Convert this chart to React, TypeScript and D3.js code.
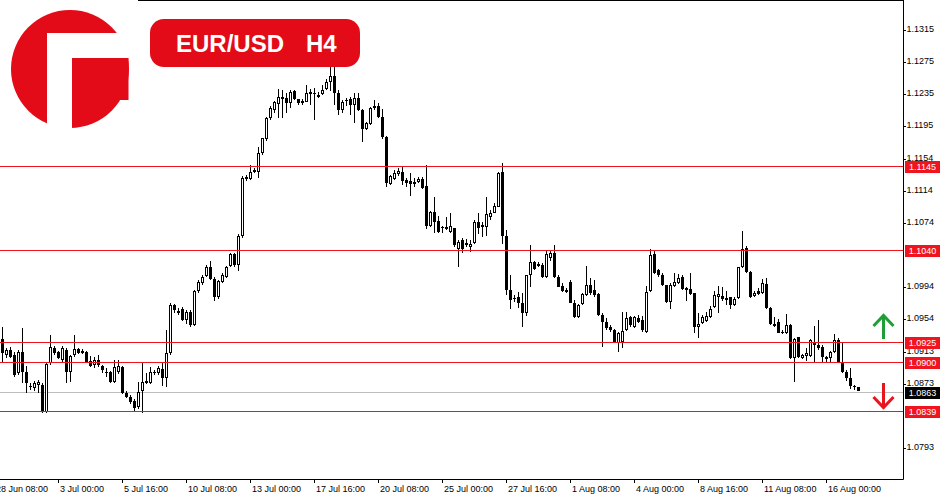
import React from "react";
import * as d3 from "d3";

const FONT = "'Liberation Sans', Arial, sans-serif";

// bar index of the first candle (bar 0 = 28 Jun 08:00, H4 bars)
const firstBar = 2;

const opens = [
  1.09288,1.09088,1.09150,1.09088,1.08863,1.09125,1.08875,1.08700,1.08675,1.08713,
  1.08713,1.08375,1.08988,1.09175,1.09125,1.09025,1.09150,1.08875,1.09088,1.09163,
  1.09113,1.09125,1.09013,1.08963,1.09025,1.08950,1.08875,1.08875,1.08750,1.08875,
  1.08938,1.08613,1.08563,1.08513,1.08438,1.08638,1.08763,1.08738,1.08875,1.08863,
  1.08913,1.08800,1.09113,1.09713,1.09613,1.09663,1.09525,1.09625,1.09463,1.09888,
  1.09988,1.10075,1.10188,1.10038,1.09813,1.10000,1.10063,1.10200,1.10350,1.10213,
  1.10575,1.11313,1.11288,1.11400,1.11375,1.11613,1.11788,1.12050,1.12150,1.12225,
  1.12313,1.12300,1.12238,1.12388,1.12288,1.12263,1.12250,1.12375,1.12350,1.12313,
  1.12350,1.12413,1.12500,1.12575,1.12363,1.12150,1.12275,1.12288,1.12213,1.12300,
  1.12150,1.11913,1.11975,1.12175,1.12200,1.12063,1.11813,1.11225,1.11288,1.11350,
  1.11375,1.11275,1.11263,1.11225,1.11250,1.11288,1.11200,1.10700,1.10875,1.10763,
  1.10688,1.10688,1.10625,1.10675,1.10413,1.10525,1.10488,1.10438,1.10488,1.10750,
  1.10713,1.10688,1.10813,1.10863,1.10938,1.11375,1.10575,1.09900,1.09788,1.09813,
  1.09738,1.09613,1.10088,1.10250,1.10225,1.10213,1.10063,1.10300,1.10363,1.10063,
  1.09950,1.09900,1.10000,1.09738,1.09563,1.09725,1.09838,1.09963,1.09900,1.09850,
  1.09588,1.09500,1.09438,1.09400,1.09238,1.09250,1.09400,1.09563,1.09438,1.09550,
  1.09525,1.09375,1.09888,1.10350,1.10150,1.10088,1.09963,1.09750,1.09950,1.09988,
  1.10063,1.09925,1.09913,1.09863,1.09438,1.09488,1.09513,1.09563,1.09688,1.09813,
  1.09825,1.09800,1.09813,1.09713,1.09800,1.10188,1.10425,1.10125,1.09825,1.09888,
  1.09863,1.09975,1.09675,1.09475,1.09500,1.09375,1.09363,1.09463,1.09050,1.09313,
  1.09050,1.09075,1.09075,1.09250,1.09213,1.09188,1.09063,1.09050,1.09125,1.09275,
  1.09000,1.08875,1.08800,1.08700,1.08688,
];

const highs = [
  1.09438,1.09175,1.09188,1.09125,1.09150,1.09425,1.08950,1.08738,1.08763,1.08775,
  1.08738,1.08988,1.09338,1.09200,1.09138,1.09200,1.09175,1.09088,1.09338,1.09175,
  1.09163,1.09138,1.09075,1.09063,1.09088,1.08963,1.08925,1.08888,1.09025,1.09025,
  1.08950,1.08638,1.08588,1.08538,1.08750,1.09000,1.08863,1.08938,1.08900,1.08950,
  1.09000,1.09400,1.09738,1.09725,1.09675,1.09688,1.09650,1.09650,1.09900,1.10025,
  1.10088,1.10213,1.10263,1.10063,1.10025,1.10113,1.10200,1.10363,1.10363,1.10600,
  1.11325,1.11338,1.11463,1.11425,1.11688,1.11800,1.12063,1.12200,1.12263,1.12413,
  1.12400,1.12363,1.12400,1.12400,1.12288,1.12288,1.12463,1.12413,1.12425,1.12375,
  1.12463,1.12538,1.12725,1.12750,1.12400,1.12275,1.12300,1.12313,1.12363,1.12363,
  1.12163,1.12000,1.12188,1.12275,1.12238,1.12163,1.11825,1.11338,1.11400,1.11425,
  1.11438,1.11300,1.11363,1.11300,1.11313,1.11313,1.11463,1.10888,1.11063,1.10825,
  1.10700,1.10813,1.10863,1.10675,1.10525,1.10550,1.10538,1.10525,1.10775,1.10863,
  1.10750,1.11063,1.10900,1.10988,1.11375,1.11488,1.10650,1.10088,1.09838,1.09875,
  1.09863,1.10088,1.10463,1.10263,1.10250,1.10238,1.10400,1.10388,1.10463,1.10088,
  1.09988,1.09925,1.10025,1.09775,1.09725,1.09863,1.10200,1.10050,1.10025,1.09863,
  1.09613,1.09550,1.09463,1.09413,1.09375,1.09625,1.09625,1.09575,1.09575,1.09588,
  1.09575,1.09950,1.10413,1.10400,1.10163,1.10113,1.09963,1.09988,1.10113,1.10100,
  1.10088,1.09938,1.10113,1.09863,1.09613,1.09588,1.09625,1.09700,1.09888,1.09950,
  1.09938,1.09888,1.09813,1.09813,1.10188,1.10638,1.10450,1.10138,1.09888,1.09925,
  1.10038,1.10050,1.09688,1.09563,1.09538,1.09400,1.09600,1.09475,1.09300,1.09313,
  1.09100,1.09175,1.09288,1.09450,1.09525,1.09213,1.09075,1.09138,1.09350,1.09300,
  1.09238,1.08900,1.08925,1.08713,1.08688,
];

const lows = [
  1.08988,1.09050,1.09050,1.08813,1.08838,1.08738,1.08613,1.08650,1.08638,1.08613,
  1.08363,1.08363,1.08963,1.09088,1.09038,1.09000,1.08738,1.08750,1.09063,1.09100,
  1.09100,1.08988,1.08938,1.08925,1.08938,1.08863,1.08813,1.08738,1.08738,1.08850,
  1.08600,1.08550,1.08475,1.08375,1.08413,1.08363,1.08725,1.08725,1.08838,1.08838,
  1.08700,1.08688,1.09088,1.09613,1.09588,1.09513,1.09475,1.09438,1.09450,1.09863,
  1.09963,1.10063,1.10025,1.09763,1.09788,1.09988,1.10050,1.10188,1.10188,1.10138,
  1.10550,1.11263,1.11275,1.11363,1.11300,1.11588,1.11763,1.12025,1.12113,1.12050,
  1.12050,1.12113,1.12175,1.12275,1.12213,1.12213,1.12250,1.12213,1.12025,1.12300,
  1.12338,1.12400,1.12388,1.12213,1.12088,1.12113,1.12200,1.12088,1.11988,1.12138,
  1.11750,1.11900,1.11963,1.12150,1.12050,1.11788,1.11188,1.11213,1.11275,1.11325,
  1.11213,1.11188,1.11075,1.11188,1.11238,1.11163,1.10663,1.10688,1.10613,1.10613,
  1.10613,1.10650,1.10613,1.10438,1.10188,1.10363,1.10438,1.10375,1.10475,1.10600,
  1.10563,1.10575,1.10775,1.10863,1.10938,1.10475,1.09838,1.09663,1.09750,1.09675,
  1.09438,1.09575,1.09938,1.10150,1.10188,1.10050,1.10050,1.10263,1.10050,1.09938,
  1.09875,1.09863,1.09738,1.09550,1.09550,1.09713,1.09825,1.09838,1.09813,1.09575,
  1.09188,1.09400,1.09375,1.09238,1.09125,1.09175,1.09388,1.09438,1.09425,1.09488,
  1.09375,1.09363,1.09875,1.10100,1.10063,1.09950,1.09738,1.09663,1.09938,1.09975,
  1.09900,1.09763,1.09838,1.09363,1.09300,1.09475,1.09500,1.09550,1.09675,1.09613,
  1.09763,1.09713,1.09663,1.09700,1.09788,1.10175,1.10113,1.09800,1.09813,1.09838,
  1.09850,1.09663,1.09463,1.09438,1.09363,1.09350,1.09350,1.09038,1.08750,1.09050,
  1.09038,1.09013,1.09063,1.08988,1.09150,1.08988,1.08988,1.08988,1.09113,1.08988,
  1.08863,1.08763,1.08663,1.08650,1.08638,
];

const closes = [
  1.09113,1.09150,1.09063,1.08838,1.09125,1.08875,1.08738,1.08688,1.08738,1.08750,
  1.08375,1.08975,1.09188,1.09113,1.09050,1.09175,1.08875,1.09075,1.09163,1.09113,
  1.09138,1.09000,1.08950,1.09025,1.08963,1.08900,1.08863,1.08750,1.08938,1.08950,
  1.08613,1.08563,1.08500,1.08425,1.08625,1.08750,1.08738,1.08875,1.08863,1.08925,
  1.08800,1.09113,1.09713,1.09650,1.09638,1.09525,1.09625,1.09463,1.09888,1.10000,
  1.10063,1.10188,1.10038,1.09813,1.10013,1.10088,1.10188,1.10350,1.10213,1.10575,
  1.11300,1.11288,1.11375,1.11375,1.11613,1.11800,1.12050,1.12175,1.12250,1.12313,
  1.12288,1.12238,1.12375,1.12288,1.12238,1.12238,1.12363,1.12350,1.12363,1.12338,
  1.12400,1.12500,1.12575,1.12363,1.12150,1.12250,1.12263,1.12213,1.12300,1.12150,
  1.11913,1.11988,1.12175,1.12200,1.12063,1.11813,1.11238,1.11325,1.11363,1.11388,
  1.11263,1.11238,1.11225,1.11250,1.11288,1.11175,1.10700,1.10875,1.10750,1.10625,
  1.10675,1.10663,1.10700,1.10463,1.10500,1.10413,1.10463,1.10475,1.10750,1.10675,
  1.10688,1.10850,1.10863,1.10950,1.11363,1.10575,1.09900,1.09775,1.09800,1.09738,
  1.09613,1.10088,1.10250,1.10163,1.10200,1.10063,1.10350,1.10363,1.10063,1.09938,
  1.09888,1.09875,1.09738,1.09563,1.09713,1.09850,1.09963,1.09863,1.09838,1.09588,
  1.09500,1.09425,1.09400,1.09238,1.09363,1.09388,1.09550,1.09463,1.09563,1.09500,
  1.09400,1.09875,1.10338,1.10113,1.10088,1.09963,1.09750,1.09963,1.10000,1.10050,
  1.09913,1.09900,1.09850,1.09438,1.09475,1.09563,1.09575,1.09663,1.09838,1.09850,
  1.09788,1.09775,1.09713,1.09788,1.10188,1.10413,1.10125,1.09813,1.09863,1.09850,
  1.09988,1.09675,1.09475,1.09450,1.09363,1.09363,1.09463,1.09050,1.09288,1.09063,
  1.09088,1.09113,1.09275,1.09213,1.09175,1.09063,1.09038,1.09125,1.09275,1.09000,
  1.08875,1.08800,1.08700,1.08688,1.08638,
];

const timeTickBars = [0, 16, 32, 48, 64, 80, 96, 112, 128, 144, 160, 176, 192, 208];
const timeTickLabels = [
  "28 Jun 08:00", "3 Jul 00:00", "5 Jul 16:00", "10 Jul 08:00", "13 Jul 00:00",
  "17 Jul 16:00", "20 Jul 08:00", "25 Jul 00:00", "27 Jul 16:00", "1 Aug 08:00",
  "4 Aug 00:00", "8 Aug 16:00", "11 Aug 08:00", "16 Aug 00:00",
];

// visible price-axis labels (those hidden under the level tags are omitted)
const priceTicks = [
  1.1315, 1.1275, 1.1235, 1.1195, 1.1154, 1.1114, 1.1074,
  1.0994, 1.0954, 1.0913, 1.0873, 1.0793,
];

const levels = [1.1145, 1.104, 1.0925, 1.09, 1.0839];
const bidPrice = 1.0863;
const symbol = "EUR/USD";
const timeframe = "H4";

export default function App() {
  const width = 950;
  const height = 500;
  const axisX = 903;
  const axisY = 479;
  const RED = "#f0141e";
  const LOGO_RED = "#e30b18";

  const y = d3.scaleLinear().domain([1.075375, 1.13525]).range([axisY, 0]);
  const x = d3.scaleLinear().domain([0, 226]).range([-5.5, 898.5]);
  const px = (i: number) => Math.round(x(i) - 0.5) + 0.5;
  const py = (v: number) => Math.round(y(v));
  const fmt = d3.format(".4f");

  const candles = opens.map((o, k) => {
    const i = firstBar + k;
    const c = closes[k];
    const cx = px(i);
    const yo = py(o), yc = py(c), yh = py(highs[k]), yl = py(lows[k]);
    const top = Math.min(yo, yc);
    const bot = Math.max(yo, yc);
    const up = c > o;
    let body;
    if (bot - top <= 1) {
      body = <line x1={cx - 1.5} x2={cx + 1.5} y1={top + 0.5} y2={top + 0.5} stroke="#000" strokeWidth={1} />;
    } else if (up) {
      body = <rect x={cx - 1} y={top + 0.5} width={2} height={bot - top - 1} fill="#fff" stroke="#000" strokeWidth={1} />;
    } else {
      body = <rect x={cx - 1.5} y={top} width={3} height={bot - top} fill="#000" />;
    }
    return (
      <g key={k}>
        <line x1={cx} x2={cx} y1={Math.min(yh, top)} y2={Math.max(yl, bot)} stroke="#000" strokeWidth={1} />
        {body}
      </g>
    );
  });

  return (
    <svg width={width} height={height} style={{ position: "absolute", left: 0, top: 0 }} fontFamily={FONT}>
      <rect x={0} y={0} width={width} height={height} fill="#fff" />

      {/* bid line */}
      <line x1={0} x2={axisX} y1={py(bidPrice) + 0.5} y2={py(bidPrice) + 0.5} stroke="#bdbdbd" strokeWidth={1} />

      <g>{candles}</g>

      {/* horizontal levels */}
      {levels.map((v, k) => (
        <line key={k} x1={0} x2={axisX} y1={py(v) + 0.5} y2={py(v) + 0.5} stroke={RED} strokeWidth={1} />
      ))}

      {/* frame */}
      <line x1={138} x2={axisX + 0.5} y1={0.5} y2={0.5} stroke="#000" />
      <line x1={axisX + 0.5} x2={axisX + 0.5} y1={0} y2={axisY + 0.5} stroke="#000" />
      <line x1={0} x2={axisX + 0.5} y1={axisY + 0.5} y2={axisY + 0.5} stroke="#000" />

      {/* price axis */}
      {priceTicks.map((v, k) => {
        const ty = py(v) + 0.5;
        return (
          <g key={k}>
            <line x1={axisX} x2={axisX + 3} y1={ty} y2={ty} stroke="#000" />
            <text x={906.5} y={ty + 1} fontSize={9} fill="#000">{fmt(v)}</text>
          </g>
        );
      })}

      {/* time axis */}
      {timeTickBars.map((b, k) => {
        const tx = px(b);
        return (
          <g key={k}>
            <line x1={tx} x2={tx} y1={axisY} y2={axisY + 4} stroke="#000" />
            <text x={tx + 1.5} y={492} fontSize={9} fill="#000">{timeTickLabels[k]}</text>
          </g>
        );
      })}

      {/* level labels */}
      {levels.map((v, k) => (
        <g key={k}>
          <rect x={905} y={py(v) - 5} width={35} height={12} fill={RED} />
          <text x={922.5} y={py(v) + 4} fontSize={9} fill="#fff" textAnchor="middle">{fmt(v)}</text>
        </g>
      ))}
      <rect x={905} y={py(bidPrice) - 5} width={35} height={12} fill="#000" />
      <text x={922.5} y={py(bidPrice) + 4} fontSize={9} fill="#fff" textAnchor="middle">{fmt(bidPrice)}</text>

      {/* arrows */}
      <g stroke="#1e9e34" strokeWidth={3} fill="none">
        <line x1={883.5} x2={883.5} y1={315} y2={339} />
        <polyline points="873.5,326 883.5,315.5 893.5,326" />
      </g>
      <g stroke="#e8141e" strokeWidth={3} fill="none">
        <line x1={883.5} x2={883.5} y1={383} y2={407} />
        <polyline points="873.5,397 883.5,407.5 893.5,397" />
      </g>

      {/* logo */}
      <g>
        <circle cx={70} cy={69} r={59} fill={LOGO_RED} />
        <rect x={100} y={58} width={28.5} height={42} fill={LOGO_RED} />
        <rect x={47} y={33} width={25} height={100} fill="#fff" />
        <rect x={47} y={33} width={90} height={25} fill="#fff" />
      </g>

      {/* title */}
      <rect x={150} y={19} width={210} height={48} rx={14} fill={LOGO_RED} />
      <text x={176} y={52} fontSize={24} fontWeight="bold" fill="#fff">{symbol}</text>
      <text x={306} y={52} fontSize={24} fontWeight="bold" fill="#fff">{timeframe}</text>
    </svg>
  );
}
